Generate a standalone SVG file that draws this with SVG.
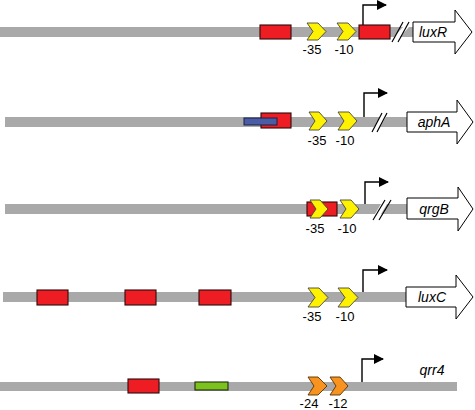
<svg xmlns="http://www.w3.org/2000/svg" width="475" height="410" viewBox="0 0 475 410">
<defs>
<style>
.bar{fill:#a9a9a9}
.red{fill:#ee1d23;stroke:#2a0a0a;stroke-width:1.1}
.blue{fill:#4a5ca6;stroke:#1a2040;stroke-width:1}
.green{fill:#7cc21f;stroke:#1f2a0a;stroke-width:1.1}
.yel{fill:#fff200;stroke:#444;stroke-width:0.9}
.org{fill:#f7931e;stroke:#5a3000;stroke-width:0.9}
.gene{fill:#fff;stroke:#000;stroke-width:1}
.prom{fill:none;stroke:#000;stroke-width:1.4}
.sl{stroke:#000;stroke-width:1.2}
.lbl{font-family:"Liberation Sans",Arial,sans-serif;font-size:13px;fill:#000;text-anchor:middle}
.gl{font-family:"Liberation Sans",Arial,sans-serif;font-size:14px;font-style:italic;fill:#000;text-anchor:middle}
</style>
<marker id="ah" viewBox="0 0 10 10" refX="9" refY="5" markerWidth="10" markerHeight="10" markerUnits="userSpaceOnUse" orient="auto">
<path d="M0,0 L10,5 L0,10 Z" fill="#000"/>
</marker>
</defs>

<g id="connectors">
<path class="prom" d="M363,25 V5 H386" marker-end="url(#ah)"/>
<path class="prom" d="M364,117 V93 H387" marker-end="url(#ah)"/>
<path class="prom" d="M365,204 V182 H388" marker-end="url(#ah)"/>
<path class="prom" d="M363,292 V270 H387" marker-end="url(#ah)"/>
<path class="prom" d="M362,382 V359 H383" marker-end="url(#ah)"/>
</g>

<g id="row-luxR">
<rect class="bar" x="0" y="27" width="413" height="10"/>
<rect class="red" x="260" y="25" width="31" height="14"/>
<polygon class="yel" points="307,23 318,23 326,31.5 318,40 307,40 313,31.5"/>
<polygon class="yel" points="337,23 348,23 356,31.5 348,40 337,40 343,31.5"/>
<rect class="red" x="359" y="25" width="31" height="14"/>
<polygon points="394,37 400,37 409,27 403,27" fill="#fff"/>
<line class="sl" x1="392" y1="42" x2="403" y2="22"/>
<line class="sl" x1="398" y1="42" x2="409" y2="22"/>
<path class="gene" d="M413,22 H455 V10 L472,32 L455,54 V42 H413 Z"/>
<text class="gl" x="433" y="37">luxR</text>
<text class="lbl" x="312" y="54">-35</text>
<text class="lbl" x="344" y="54">-10</text>
</g>

<g id="row-aphA">
<rect class="bar" x="5" y="117" width="402" height="10"/>
<rect class="red" x="261" y="113" width="30" height="15"/>
<rect class="blue" x="244" y="118" width="33" height="7"/>
<polygon class="yel" points="309,112 319,112 327,121 319,130 309,130 315,121"/>
<polygon class="yel" points="338,112 349,112 357,121 349,130 338,130 344,121"/>
<polygon points="374,127 380,127 386,117 380,117" fill="#fff"/>
<line class="sl" x1="372" y1="132" x2="382" y2="113"/>
<line class="sl" x1="377" y1="132" x2="387" y2="113"/>
<path class="gene" d="M407,112 H457 V100 L473,122 L457,144 V132 H407 Z"/>
<text class="gl" x="434" y="127">aphA</text>
<text class="lbl" x="317" y="145">-35</text>
<text class="lbl" x="345" y="145">-10</text>
</g>

<g id="row-qrgB">
<rect class="bar" x="5" y="204" width="402" height="10"/>
<rect class="red" x="307" y="202" width="30" height="14"/>
<polygon class="yel" points="310,200 320,200 328,209 320,218 310,218 316,209"/>
<polygon class="yel" points="340,200 351,200 359,209 351,218 340,218 346,209"/>
<polygon points="375,214 381,214 387,204 381,204" fill="#fff"/>
<line class="sl" x1="373" y1="220" x2="385" y2="200"/>
<line class="sl" x1="379" y1="220" x2="391" y2="200"/>
<path class="gene" d="M407,198 H458 V187 L473,209 L458,231 V219 H407 Z"/>
<text class="gl" x="434" y="214">qrgB</text>
<text class="lbl" x="315" y="233">-35</text>
<text class="lbl" x="347" y="233">-10</text>
</g>

<g id="row-luxC">
<rect class="bar" x="3" y="292" width="403" height="10"/>
<rect class="red" x="37" y="290" width="31" height="15"/>
<rect class="red" x="125" y="290" width="31" height="15"/>
<rect class="red" x="199" y="290" width="32" height="15"/>
<polygon class="yel" points="308,288 319,288 328,297.5 319,307 308,307 315,297.5"/>
<polygon class="yel" points="338,288 349,288 358,297.5 349,307 338,307 345,297.5"/>
<path class="gene" d="M406,287 H456 V275 L473,297 L456,319 V307 H406 Z"/>
<text class="gl" x="432" y="302">luxC</text>
<text class="lbl" x="312" y="321">-35</text>
<text class="lbl" x="345" y="321">-10</text>
</g>

<g id="row-qrr4">
<rect class="bar" x="0" y="382" width="457" height="9"/>
<rect class="red" x="128" y="379" width="31" height="14"/>
<rect class="green" x="195" y="382" width="33" height="8"/>
<polygon class="org" points="308,377 318,377 327,386 318,395 308,395 314,386"/>
<polygon class="org" points="330,377 340,377 348,386 340,395 330,395 336,386"/>
<text class="gl" x="432" y="375">qrr4</text>
<text class="lbl" x="309" y="408">-24</text>
<text class="lbl" x="338" y="408">-12</text>
</g>
</svg>
